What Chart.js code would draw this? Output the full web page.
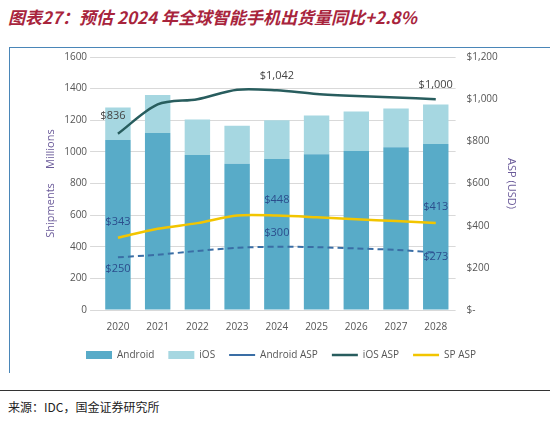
<!DOCTYPE html>
<html><head><meta charset="utf-8">
<script src="https://cdn.jsdelivr.net/npm/chart.js@4"></script>
<style>
body{margin:0;width:550px;height:421px;background:#fff;font-family:"Noto Sans CJK SC","Noto Sans",sans-serif;overflow:hidden;position:relative}
#title{position:absolute;left:8px;top:4px;font-size:17px;font-weight:bold;font-style:italic;color:#a8243c}
#box{position:absolute;left:9px;top:47px;width:540px;height:325px;border-left:1px solid #4a86b8;border-top:1px solid #4a86b8}
#wrap{position:absolute;left:10px;top:48px;width:530px;height:322px}
#line{position:absolute;left:0;top:390px;width:550px;border-top:1px solid #333}
#src{position:absolute;left:8px;top:398px;font-size:12px;color:#222}
</style></head><body>
<div id="title">图表27：预估 2024 年全球智能手机出货量同比+2.8%</div>
<div id="box"></div>
<div id="wrap"><canvas id="c"></canvas></div>
<div id="line"></div>
<div id="src">来源：IDC，国金证券研究所</div>
<script>
var years = ["2020","2021","2022","2023","2024","2025","2026","2027","2028"];
var android = [1075, 1120, 980, 925, 955, 985, 1005, 1030, 1050];
var ios = [205, 240, 225, 240, 245, 245, 250, 245, 250];
var androidAsp = [250, 262, 280, 295, 300, 298, 292, 285, 273];
var iosAsp = [836, 975, 1000, 1045, 1042, 1025, 1015, 1008, 1000];
var spAsp = [343, 385, 412, 448, 448, 440, 430, 422, 413];
// labelled points: [dataset index, point index, text, dx, dy]
var notes = [
  [3, 0, "$836", -5, -18], [3, 4, "$1,042", 0, -14], [3, 8, "$1,000", 0, -14],
  [4, 0, "$343", 0, -16], [4, 4, "$448", 0, -16], [4, 8, "$413", 0, -16],
  [2, 0, "$250", 0, 12], [2, 4, "$300", 0, -14], [2, 8, "$273", 0, 4]
];
var labelPlugin = {
  id: "notes",
  afterDatasetsDraw: function (chart) {
    var ctx = chart.ctx;
    ctx.save();
    ctx.font = "11px 'Open Sans'";
    ctx.textAlign = "center";
    ctx.textBaseline = "middle";
    notes.forEach(function (n) {
      var p = chart.getDatasetMeta(n[0]).data[n[1]];
      ctx.fillStyle = n[0] == 3 ? "#444" : "#2b4d8c";
      ctx.fillText(n[2], p.x + n[3], p.y + n[4]);
    });
    ctx.restore();
  }
};
var ctx = document.getElementById("c").getContext("2d");
new Chart(ctx, {
  type: "bar",
  data: {
    labels: years,
    datasets: [
      { label: "Android", data: android, backgroundColor: "#58abc8", stack: "s", yAxisID: "y", order: 2, categoryPercentage: 0.64, barPercentage: 1, pointStyle: "rect" },
      { label: "iOS", data: ios, backgroundColor: "#a6d7e1", stack: "s", yAxisID: "y", order: 2, categoryPercentage: 0.64, barPercentage: 1, pointStyle: "rect" },
      { type: "line", label: "Android ASP", data: androidAsp, borderColor: "#3a6ea5", borderDash: [6, 4], borderWidth: 2, pointRadius: 0, pointStyle: "line", yAxisID: "y2", order: 1, tension: 0.3 },
      { type: "line", label: "iOS ASP", data: iosAsp, borderColor: "#285d5e", borderWidth: 2.5, pointRadius: 0, pointStyle: "line", yAxisID: "y2", order: 1, tension: 0.3 },
      { type: "line", label: "SP ASP", data: spAsp, borderColor: "#f2c500", borderWidth: 2.5, pointRadius: 0, pointStyle: "line", yAxisID: "y2", order: 1, tension: 0.3 }
    ]
  },
  options: {
    responsive: true, maintainAspectRatio: false, animation: false,
    layout: { padding: { top: 4, left: 30, right: 18 } },
    plugins: {
      tooltip: { enabled: false },
      legend: {
        position: "bottom",
        labels: { usePointStyle: true, pointStyleWidth: 26, boxHeight: 8, color: "#555", font: { size: 10, family: "Open Sans" }, padding: 14,
          sort: function (a, b) { return a.datasetIndex - b.datasetIndex; } }
      }
    },
    scales: {
      x: { grid: { display: false }, border: { display: false }, ticks: { color: "#555", font: { size: 10, family: "Open Sans" } } },
      y: {
        min: 0, max: 1600, stacked: true,
        ticks: { stepSize: 200, color: "#555", font: { size: 10, family: "Open Sans" }, callback: function (v) { return v; } },
        grid: { color: "#d9d9d9" }, border: { display: false },
        title: { display: true, text: "Shipments     Millions", color: "#6b5b9a", font: { size: 11, family: "Open Sans" } }
      },
      y2: {
        position: "right", min: 0, max: 1200,
        ticks: { stepSize: 200, color: "#555", font: { size: 10, family: "Open Sans" },
          callback: function (v) { return v == 0 ? "$-" : "$" + v.toLocaleString("en-US"); } },
        grid: { display: false }, border: { display: false },
        title: { display: true, text: "ASP (USD)", color: "#6b5b9a", font: { size: 11, family: "Open Sans" } }
      }
    }
  },
  plugins: [labelPlugin]
});
</script>
</body></html>
